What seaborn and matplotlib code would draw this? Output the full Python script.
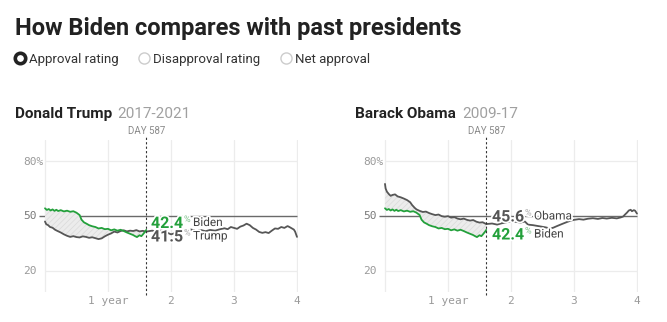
import numpy as np
import pandas as pd
import matplotlib
matplotlib.use("Agg")
import matplotlib.pyplot as plt
import matplotlib.patheffects as pe
import seaborn as sns

# ---------------- data (x in years since inauguration, approval %) ----------------
biden_years = [0.00, 0.03, 0.06, 0.09, 0.12, 0.15, 0.18, 0.21, 0.25, 0.30, 0.35, 0.40, 0.45,
               0.50, 0.55, 0.58, 0.62, 0.66, 0.70, 0.75, 0.80, 0.85, 0.90, 0.95, 1.00, 1.05,
               1.10, 1.15, 1.20, 1.25, 1.30, 1.35, 1.40, 1.43, 1.46, 1.50, 1.53, 1.56, 1.59, 1.607]
biden_approval = [54.2, 53.3, 53.8, 53.0, 53.6, 52.8, 53.4, 52.7, 53.2, 52.5, 52.9, 52.3, 52.6,
                  51.8, 50.5, 48.0, 46.5, 45.8, 45.0, 44.4, 44.0, 43.2, 43.5, 42.8, 43.0, 42.2,
                  42.7, 42.0, 42.5, 41.8, 41.0, 40.3, 39.6, 39.0, 38.5, 39.5, 39.0, 40.2, 41.5, 42.4]

trump_years = [0.00, 0.02, 0.05, 0.08, 0.12, 0.16, 0.20, 0.25, 0.30, 0.35, 0.40, 0.45, 0.50,
               0.55, 0.60, 0.65, 0.70, 0.75, 0.80, 0.85, 0.90, 0.95, 1.00, 1.05, 1.10, 1.15,
               1.20, 1.25, 1.30, 1.35, 1.40, 1.45, 1.50, 1.55, 1.607, 1.70, 1.78, 1.85, 1.92,
               2.00, 2.05, 2.10, 2.18, 2.25, 2.32, 2.40, 2.48, 2.55, 2.62, 2.70, 2.78, 2.85,
               2.90, 2.95, 3.00, 3.05, 3.10, 3.15, 3.20, 3.25, 3.30, 3.35, 3.40, 3.45, 3.50,
               3.55, 3.60, 3.65, 3.70, 3.75, 3.80, 3.85, 3.88, 3.92, 3.95, 3.97, 4.00]
trump_approval = [47.0, 45.5, 45.0, 44.0, 43.6, 42.5, 41.8, 41.0, 40.0, 39.2, 38.6, 39.0, 38.5,
                  38.3, 38.9, 38.6, 38.1, 38.4, 37.9, 37.4, 37.8, 38.9, 39.8, 40.5, 41.5, 41.0,
                  41.8, 42.2, 41.6, 42.0, 41.8, 42.3, 41.6, 41.9, 41.5, 42.0, 41.6, 42.3, 41.2,
                  40.0, 40.5, 41.8, 42.5, 42.1, 42.6, 42.0, 42.3, 41.7, 42.4, 42.0, 42.8, 43.3,
                  42.8, 44.0, 43.5, 43.0, 44.2, 44.8, 45.8, 45.0, 43.5, 42.6, 41.3, 40.8, 41.2,
                  40.7, 42.0, 43.2, 43.0, 44.0, 43.5, 44.5, 44.0, 43.2, 42.6, 41.5, 38.6]

obama_years = [0.00, 0.01, 0.03, 0.06, 0.09, 0.12, 0.16, 0.20, 0.25, 0.30, 0.35, 0.40, 0.43,
               0.47, 0.50, 0.55, 0.60, 0.65, 0.70, 0.75, 0.80, 0.85, 0.90, 0.95, 1.00, 1.05,
               1.10, 1.15, 1.20, 1.25, 1.30, 1.35, 1.40, 1.45, 1.50, 1.55, 1.607, 1.70, 1.78,
               1.85, 1.92, 2.00, 2.08, 2.15, 2.22, 2.27, 2.35, 2.45, 2.55, 2.62, 2.67, 2.73,
               2.80, 2.88, 2.95, 3.00, 3.08, 3.15, 3.22, 3.30, 3.38, 3.45, 3.52, 3.60, 3.68,
               3.74, 3.78, 3.81, 3.84, 3.87, 3.90, 3.92, 3.95, 3.97, 4.00]
obama_approval = [67.5, 65.0, 63.3, 62.0, 61.0, 61.5, 61.8, 60.7, 60.2, 59.5, 58.7, 57.5, 56.0,
                  54.5, 53.6, 52.8, 52.2, 52.4, 51.6, 51.0, 50.5, 50.8, 49.9, 49.6, 49.9, 49.1,
                  49.4, 48.6, 48.2, 48.6, 47.9, 47.5, 47.8, 46.9, 46.4, 46.6, 45.6, 45.9, 45.3,
                  46.0, 46.5, 47.2, 46.8, 46.4, 47.0, 45.3, 45.0, 44.4, 43.8, 43.2, 43.6, 44.5,
                  45.5, 46.6, 47.5, 47.9, 48.3, 48.0, 48.5, 48.8, 48.4, 48.9, 48.6, 49.0, 48.7,
                  49.2, 49.7, 50.8, 51.8, 53.0, 53.4, 52.6, 53.2, 52.9, 51.3]

x_ticks = [1, 2, 3, 4]
x_tick_labels = ["1 year", "2", "3", "4"]
y_labels = ["80%", "50", "20"]
radio_labels = ["Approval rating", "Disapproval rating", "Net approval"]
day_mark = 587
biden_now = "42.4"
trump_then = "41.5"
obama_then = "45.6"

# ---------------- style ----------------
sns.set_theme(style="white")
plt.rcParams["font.family"] = ["Roboto", "DejaVu Sans"]
plt.rcParams["hatch.linewidth"] = 0.5

GREEN = "#23a03b"
GRAY = "#565656"
GRID = "#ececec"
MONO = ["DejaVu Sans Mono"]

W, H = 667, 322
fig = plt.figure(figsize=(W / 100, H / 100), dpi=100)
fig.patch.set_facecolor("white")


def rect(x0, x1, y0, y1):
    return [x0 / W, 1 - y1 / H, (x1 - x0) / W, (y1 - y0) / H]


X0, X1 = -0.095, 4.016
Y0, Y1 = 8.54, 91.46
day_yr = day_mark / 365.25


def panel(ax, px, py):
    ax.set_xlim(X0, X1)
    ax.set_ylim(Y0, Y1)
    for v in [0, 1, 2, 3, 4]:
        ax.axvline(v, color=GRID, lw=0.9, zorder=0)
    ax.hlines([20, 80], 0, 4, color=GRID, lw=0.9, zorder=0)
    ax.hlines(50, X0, 4, color="#6a6a6a", lw=1.0, zorder=1)
    # shaded gap between Biden and the past president up to the current day
    xs = np.union1d(np.array(biden_years), np.array(px)[np.array(px) <= day_yr])
    b = np.interp(xs, biden_years, biden_approval)
    p = np.interp(xs, px, py)
    ax.fill_between(xs, b, p, facecolor="#ececec", edgecolor="#dadada",
                    hatch="//////", lw=0, zorder=1)
    df_p = pd.DataFrame({"year": px, "approval": py})
    df_b = pd.DataFrame({"year": biden_years, "approval": biden_approval})
    sns.lineplot(data=df_p, x="year", y="approval", color=GRAY, lw=1.3, ax=ax, zorder=3)
    sns.lineplot(data=df_b, x="year", y="approval", color=GREEN, lw=1.3, ax=ax, zorder=4)
    ax.axvline(day_yr, ymin=-0.02, ymax=1.02, color="#333333", ls=(0, (2, 2)),
               lw=0.8, clip_on=False, zorder=5)
    ax.set_xticks(x_ticks)
    ax.set_xticklabels(x_tick_labels, fontfamily=MONO, fontsize=8, color="#9a9a9a")
    ax.tick_params(axis="x", length=0, pad=3)
    ax.set_yticks([])
    ax.set_xlabel("")
    ax.set_ylabel("")
    for s in ax.spines.values():
        s.set_visible(False)
    ax.patch.set_alpha(0)


axL = fig.add_axes(rect(39, 298, 140, 292))
panel(axL, trump_years, trump_approval)
axR = fig.add_axes(rect(379, 638, 140, 292))
panel(axR, obama_years, obama_approval)

# ---------------- overlay for text in pixel coordinates ----------------
ov = fig.add_axes([0, 0, 1, 1], zorder=10)
ov.set_xlim(0, W)
ov.set_ylim(H, 0)
ov.axis("off")
ov.patch.set_alpha(0)

ov.text(15, 35, "How Biden compares with past presidents", fontsize=17,
        fontweight="bold", color="#222222", va="baseline")

ov.plot([20], [58], "o", ms=7.5, mfc="white", mec="#222222", mew=2.6)
ov.plot([144, 286], [58, 58], "o", ms=8, mfc="white", mec="#cccccc", mew=1)
for x, s in zip([29, 153, 295], radio_labels):
    ov.text(x, 62.5, s, fontsize=9.5, color="#333333", va="baseline")

halo = [pe.withStroke(linewidth=2.5, foreground="white")]

for off, name, yrs in [(0, "Donald Trump", "2017-2021"), (340, "Barack Obama", "2009-17")]:
    ov.text(15 + off, 118, name, fontsize=11, fontweight="bold", color="#222222", va="baseline")
    ov.text((117 if off == 0 else 462), 118, yrs, fontsize=11, color="#a0a0a0", va="baseline")
    ov.text(147 + off, 131, f"DAY {day_mark}", fontsize=7, color="#8a8a8a",
            ha="center", va="center")
    ov.text(44 + off, 162, y_labels[0], fontfamily=MONO, fontsize=8, color="#9a9a9a",
            ha="right", va="center")
    ov.text(37 + off, 216, y_labels[1], fontfamily=MONO, fontsize=8, color="#7a7a7a",
            ha="right", va="center")
    ov.text(37 + off, 271, y_labels[2], fontfamily=MONO, fontsize=8, color="#9a9a9a",
            ha="right", va="center")


def label(x, y, num, ncolor, pcolor, name):
    ov.text(x, y, num, fontsize=11.5, fontweight="bold", color=ncolor, va="center",
            path_effects=halo)
    ov.text(x + 33, y - 4, "%", fontsize=6.5, color=pcolor, va="center", path_effects=halo)
    ov.text(x + 42, y - 1, name, fontsize=8.5, color="#444444", va="center", path_effects=halo)


label(151, 223.5, biden_now, GREEN, "#7cc08a", "Biden")
label(151, 237, trump_then, "#555555", "#aaaaaa", "Trump")
label(492, 217, obama_then, "#555555", "#aaaaaa", "Obama")
label(492, 235, biden_now, GREEN, "#7cc08a", "Biden")

fig.savefig("out.png", dpi=100, facecolor="white")
